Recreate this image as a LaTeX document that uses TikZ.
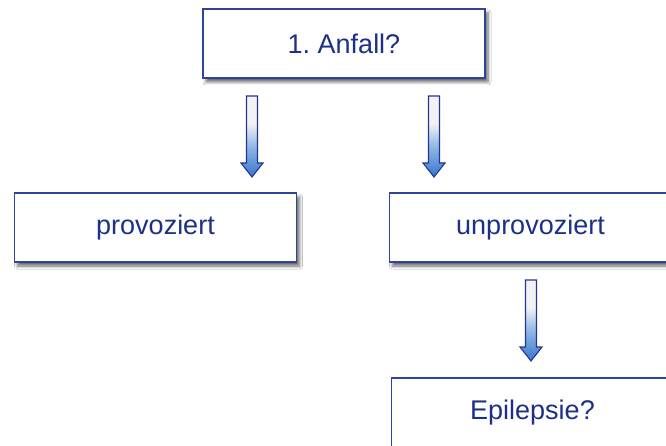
\documentclass[tikz,border=0pt]{standalone}
\usepackage{fontspec}
\setmainfont{Liberation Sans}
\frenchspacing
\usetikzlibrary{shadows.blur}
\definecolor{boxblue}{RGB}{48,68,155}
\definecolor{txtblue}{RGB}{28,48,138}
\definecolor{arrline}{RGB}{35,55,145}
\definecolor{ab}{RGB}{64,124,208}
\definecolor{am}{RGB}{150,188,232}
\definecolor{ag}{RGB}{242,242,244}
\pgfdeclareverticalshading{arrowfill}{100bp}{color(0bp)=(ab); color(27bp)=(ab); color(45bp)=(am); color(58bp)=(ag); color(100bp)=(ag)}
\tikzset{
  box/.style={draw=boxblue, line width=1.5pt, fill=white, rectangle,
    minimum width=282pt, minimum height=69pt, inner sep=0pt,
    text=txtblue, font=\fontsize{27}{32}\selectfont,
    blur shadow={shadow xshift=3pt, shadow yshift=-4pt, shadow blur radius=3pt, shadow blur steps=6, shadow opacity=60}},
  blockarrow/.style={draw=arrline, line width=1.1pt, shading=arrowfill, line join=miter}
}
\newcommand{\blockarr}[3]{% center x, top y, tip y
  \path[blockarrow] (#1-5.5,#2) -- (#1+5.5,#2) -- (#1+5.5,#3-14) -- (#1+11,#3-14) -- (#1,#3) -- (#1-11,#3-14) -- (#1-5.5,#3-14) -- cycle;
}
\begin{document}
\begin{tikzpicture}[x=1pt,y=-1pt]
\useasboundingbox (0,0) rectangle (666,446);
\clip (0,0) rectangle (666,446);
\fill[white] (0,0) rectangle (666,446);
\node[box] (anfall) at (344,43.5) {1. Anfall?};
\node[box] (prov) at (155.5,227.5) {provoziert};
\node[box] (unprov) at (530.5,227.5) {unprovoziert};
\node[box] (epi) at (532.5,412.5) {Epilepsie?};
\blockarr{252}{96}{177}
\blockarr{434}{96}{177}
\blockarr{531}{280}{361}
\end{tikzpicture}
\end{document}
